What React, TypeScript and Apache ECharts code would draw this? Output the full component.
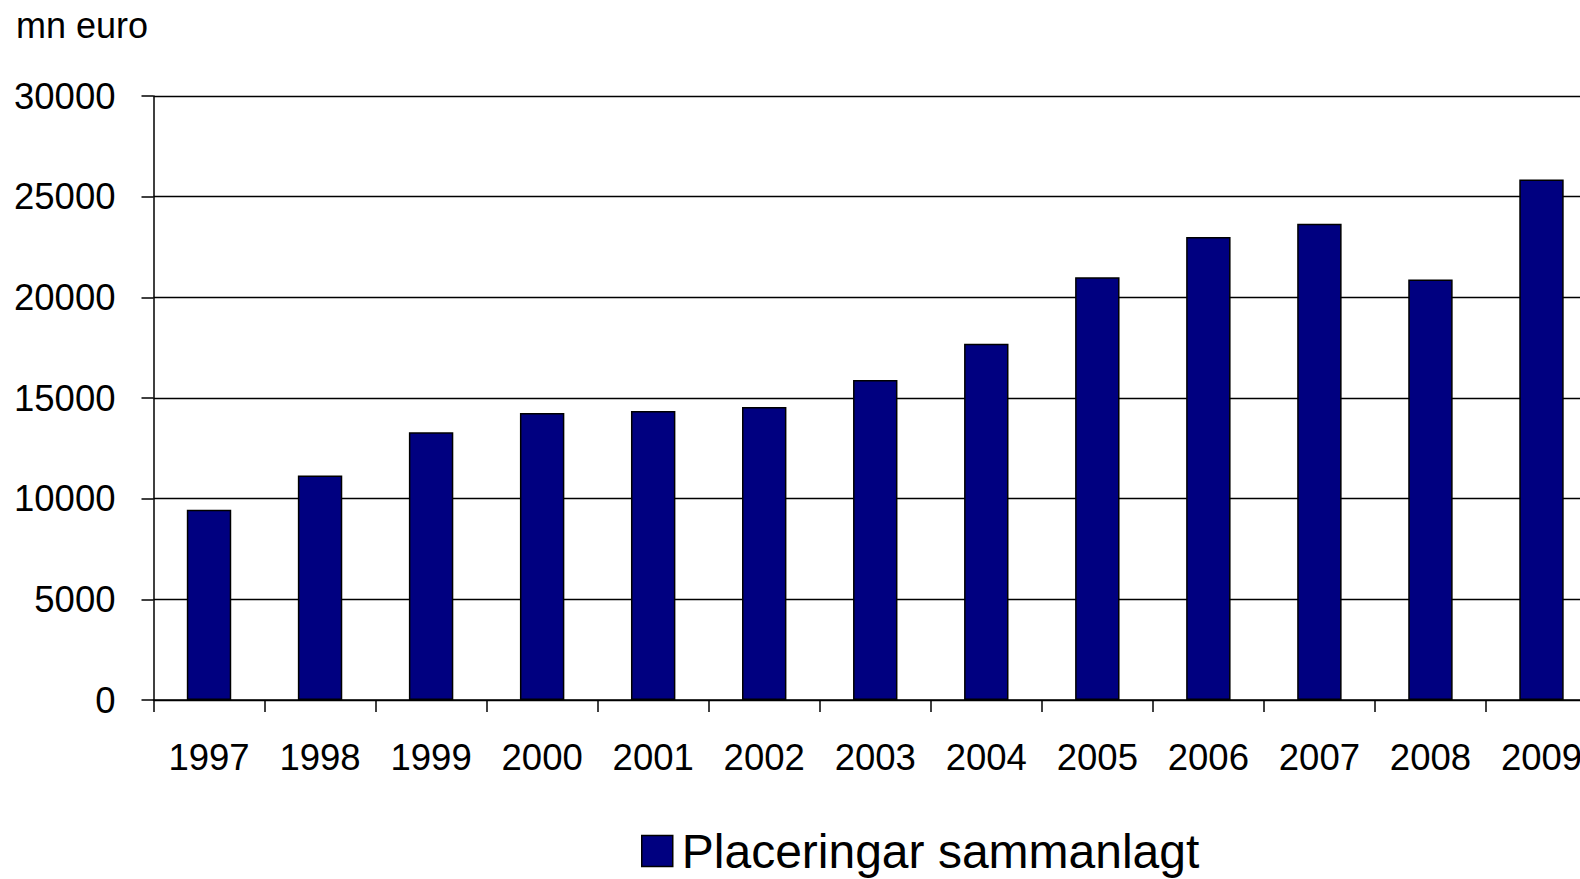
import React, { useEffect, useRef } from "react";
import * as echarts from "echarts";

const categories = ["1997", "1998", "1999", "2000", "2001", "2002", "2003", "2004", "2005", "2006", "2007", "2008", "2009"];
const placeringar = [9450, 11150, 13300, 14250, 14350, 14550, 15900, 17700, 21000, 23000, 23650, 20880, 25850];
const seriesName = "Placeringar sammanlagt";
const unitLabel = "mn euro";
const yMin = 0;
const yMax = 30000;
const yInterval = 5000;

export default function App() {
  const ref = useRef<HTMLDivElement>(null);
  useEffect(() => {
    if (!ref.current) return;
    const chart = echarts.init(ref.current, null, { renderer: "svg" });
    const font = "'Liberation Sans', Arial, sans-serif";
    chart.setOption({
      animation: false,
      backgroundColor: "#ffffff",
      textStyle: { fontFamily: font },
      grid: { left: 153.5, right: 3, top: 96, bottom: 179, containLabel: false },
      graphic: [
        {
          type: "text",
          x: 16,
          y: 25.5,
          style: { text: unitLabel, fontFamily: font, fontSize: 36, fill: "#000", verticalAlign: "middle" },
        },
      ],
      legend: {
        left: 636,
        top: 822,
        itemWidth: 31,
        itemHeight: 31,
        itemGap: 10,
        icon: "rect",
        textStyle: { fontFamily: font, fontSize: 48, lineHeight: 44, color: "#000", padding: [0, 0, 0, 4] },
        data: [{ name: seriesName, itemStyle: { color: "#000080", borderColor: "#000", borderWidth: 1.5 } }],
      },
      xAxis: {
        type: "category",
        data: categories,
        boundaryGap: true,
        axisLine: { show: true, lineStyle: { color: "#000", width: 1.5 } },
        axisTick: { show: true, length: 12, inside: false, alignWithLabel: false, lineStyle: { color: "#000", width: 1.5 } },
        axisLabel: { fontFamily: font, fontSize: 36.5, color: "#000", margin: 39, interval: 0 },
        splitLine: { show: false },
      },
      yAxis: {
        type: "value",
        min: yMin,
        max: yMax,
        interval: yInterval,
        axisLine: { show: true, lineStyle: { color: "#000", width: 1.5 } },
        axisTick: { show: true, length: 12, inside: false, lineStyle: { color: "#000", width: 1.5 } },
        axisLabel: { fontFamily: font, fontSize: 36.5, color: "#000", margin: 38, formatter: (v: number) => String(v) },
        splitLine: { show: true, lineStyle: { color: "#000", width: 1.3 } },
      },
      series: [
        {
          name: seriesName,
          type: "bar",
          data: placeringar,
          barWidth: "40%",
          itemStyle: { color: "#000080", borderColor: "#000", borderWidth: 1.5 },
        },
      ],
    });
    return () => chart.dispose();
  }, []);
  return (
    <div style={{ position: "fixed", left: 0, top: 0, width: 1580, height: 879, overflow: "hidden", background: "#fff" }}>
      <div ref={ref} style={{ width: 1600, height: 879 }} />
    </div>
  );
}
